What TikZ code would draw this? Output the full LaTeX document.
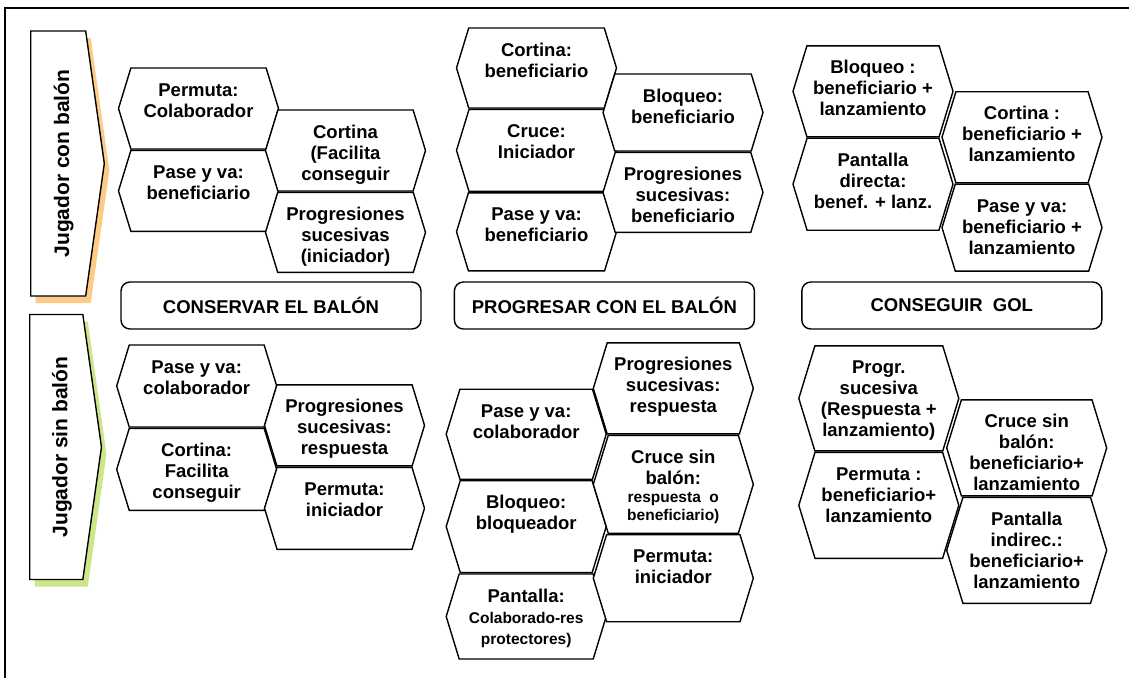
\documentclass[tikz,border=0pt]{standalone}
\usepackage{fontspec}
\setmainfont{Liberation Sans}
\usepackage{graphicx}
\usepackage{tikz}
\usetikzlibrary{positioning,shapes.symbols,shadows}

\definecolor{conball}{HTML}{FCCB85}
\definecolor{sinball}{HTML}{CDE68A}
\newcommand{\hexfont}{\fontsize{18.5pt}{21pt}\selectfont\bfseries}
\newcommand{\smallhex}{\fontsize{15.5pt}{17pt}\selectfont}
\newcommand{\hx}[1]{\begin{tabular}[t]{@{}c@{}}#1\end{tabular}}
\newcommand{\sidetext}[1]{\hspace*{11pt}\rotatebox{90}{#1}}

\begin{document}
\begin{tikzpicture}[
        x=1pt, y=-1pt,
        hexa/.style={shape=signal, signal to=west and east, signal pointer angle=146, draw, fill=white, line width=1.4pt, inner sep=0pt, minimum width=160pt, font=\hexfont, text height=15pt},
        hh/.code={\pgfmathsetmacro\hexdp{#1-41}\tikzset{minimum height=#1pt, text depth=\hexdp pt}},
        goal/.style={rectangle, draw, rounded corners=9pt, line width=1.4pt, minimum width=300pt, minimum height=47pt, font=\hexfont},
        side/.style={shape=signal, signal to=east, signal pointer angle=164, draw, fill=white, line width=1.4pt, inner sep=0pt, minimum height=265pt, font=\fontsize{21pt}{24pt}\selectfont\bfseries}
    ]
        \useasboundingbox (0,0) rectangle (1129,678);
        \draw[line width=1.6pt] (5,678) -- (5,8) -- (1129,8);

        \node[side, minimum width=73.6pt, drop shadow={shadow xshift=5pt, shadow yshift=-7pt, fill=conball, opacity=1}] (con) at (58.2,163.5) {\sidetext{Jugador con balón}};
        \node[side, minimum width=71.7pt, drop shadow={shadow xshift=5pt, shadow yshift=-7pt, fill=sinball, opacity=1}] (sin) at (56.3,447) {\sidetext{Jugador sin balón}};

        \node[goal] (conservar) at (271,305.5) {CONSERVAR EL BALÓN};
        \node[goal, right=32pt of conservar] (progresar) {PROGRESAR CON EL BALÓN};
        \node[goal, right=46pt of progresar] (gol) {CONSEGUIR\ \ GOL};

        % jugador con balon
        \node[hexa, hh=81] (cb1) at (198.5,108.5) {\hx{Permuta:\\Colaborador}};
        \node[hexa, hh=81, below=0pt of cb1] (cb2) {\hx{Pase y va:\\beneficiario}};
        \node[hexa, hh=81] (cb3) at (345.5,150.5) {\hx{Cortina\\(Facilita\\conseguir}};
        \node[hexa, hh=80, below=0pt of cb3] (cb4) {\hx{Progresiones\\sucesivas\\(iniciador)}};

        \node[hexa, hh=80] (cp1) at (536.5,68) {\hx{Cortina:\\beneficiario}};
        \node[hexa, hh=82, below=0pt of cp1] (cp2) {\hx{Cruce:\\Iniciador}};
        \node[hexa, hh=78, below=0pt of cp2] (cp3) {\hx{Pase y va:\\beneficiario}};
        \node[hexa, hh=77] (cp4) at (683,112.5) {\hx{Bloqueo:\\beneficiario}};
        \node[hexa, hh=80, below=0pt of cp4] (cp5) {\hx{Progresiones\\sucesivas:\\beneficiario}};

        \node[hexa, hh=91] (cg1) at (873,91.3) {\hx{Bloqueo :\\beneficiario +\\lanzamiento}};
        \node[hexa, hh=92, below=0pt of cg1] (cg2) {\hx{Pantalla\\directa:\\benef. + lanz.}};
        \node[hexa, hh=91] (cg3) at (1022,137.2) {\hx{Cortina :\\beneficiario +\\lanzamiento}};
        \node[hexa, hh=87, below=0pt of cg3] (cg4) {\hx{Pase y va:\\beneficiario +\\lanzamiento}};

        % jugador sin balon
        \node[hexa, hh=82] (sb1) at (196.7,386) {\hx{Pase y va:\\colaborador}};
        \node[hexa, hh=82, below=0pt of sb1] (sb2) {\hx{Cortina:\\Facilita\\conseguir}};
        \node[hexa, hh=81] (sb3) at (344.5,425.4) {\hx{Progresiones\\sucesivas:\\respuesta}};
        \node[hexa, hh=82, below=0pt of sb3] (sb4) {\hx{Permuta:\\iniciador}};

        \node[hexa, hh=90] (sp1) at (526.2,434.2) {\hx{Pase y va:\\colaborador}};
        \node[hexa, hh=92, below=0pt of sp1] (sp2) {\hx{Bloqueo:\\bloqueador}};
        \node[hexa, hh=85, below=0pt of sp2] (sp3) {\hx{Pantalla:\\{\smallhex Colaborado-res}\\{\smallhex protectores)}}};
        \node[hexa, hh=91] (sp4) at (673.3,388.4) {\hx{Progresiones\\sucesivas:\\respuesta}};
        \node[hexa, hh=98, below=0pt of sp4] (sp5) {\hx{Cruce sin\\balón:\\[-3pt]{\smallhex respuesta\ \ o}\\[-3pt]{\smallhex beneficiario)}}};
        \node[hexa, hh=87, below=0pt of sp5] (sp6) {\hx{Permuta:\\iniciador}};

        \node[hexa, hh=105] (sg1) at (878.8,398.4) {\hx{Progr.\\sucesiva\\(Respuesta +\\lanzamiento)}};
        \node[hexa, hh=106, below=0pt of sg1] (sg2) {\hx{Permuta :\\beneficiario+\\lanzamiento}};
        \node[hexa, hh=96] (sg3) at (1026.7,447.9) {\hx{Cruce sin\\balón:\\beneficiario+\\lanzamiento}};
        \node[hexa, hh=106, below=0pt of sg3] (sg4) {\hx{Pantalla\\indirec.:\\beneficiario+\\lanzamiento}};
    \end{tikzpicture}
\end{document}
